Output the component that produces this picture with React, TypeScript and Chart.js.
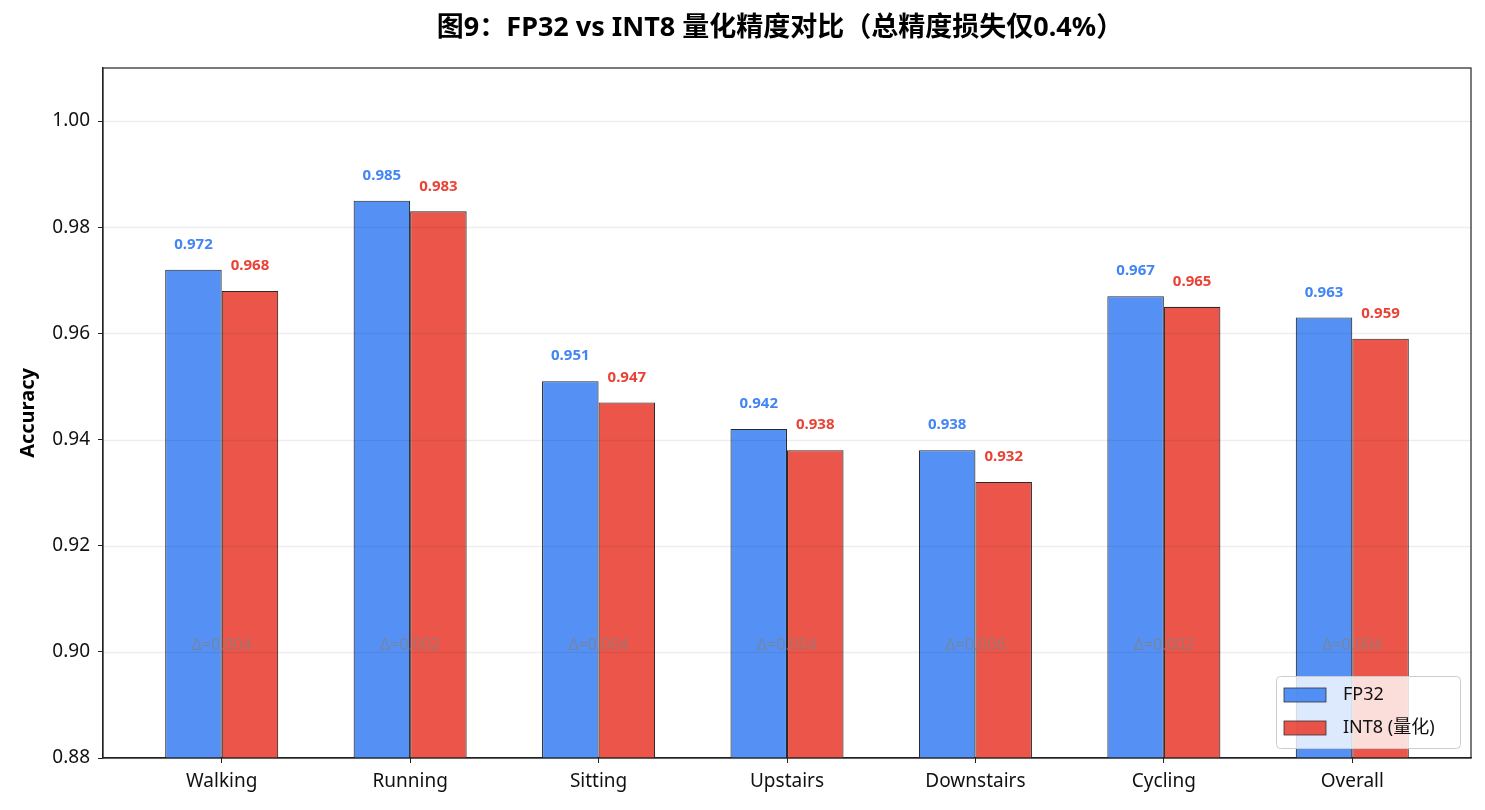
import React, { useEffect, useRef } from "react";
import { Chart, registerables } from "chart.js";

Chart.register(...registerables);

const categories = ["Walking", "Running", "Sitting", "Upstairs", "Downstairs", "Cycling", "Overall"];
const fp32 = [0.972, 0.985, 0.951, 0.942, 0.938, 0.967, 0.963];
const int8 = [0.968, 0.983, 0.947, 0.938, 0.932, 0.965, 0.959];
const yTicks = [0.88, 0.9, 0.92, 0.94, 0.96, 0.98, 1.0];
const titleText = "图9：FP32 vs INT8 量化精度对比（总精度损失仅0.4%）";
const seriesNames = ["FP32", "INT8 (量化)"];

const FONT = "'Noto Sans', 'Noto Sans CJK SC', 'DejaVu Sans', sans-serif";
const BLUE_FILL = "rgba(66,133,244,0.9)";
const RED_FILL = "rgba(234,67,53,0.9)";
const BLUE = "#4285F4";
const RED = "#EA4335";

export default function App() {
  const ref = useRef<HTMLCanvasElement | null>(null);

  useEffect(() => {
    document.body.style.margin = "0";
    const canvas = ref.current;
    if (!canvas) return;

    const overlay = {
      id: "overlay",
      afterDatasetsDraw(chart: any) {
        const ctx = chart.ctx;
        const area = chart.chartArea;
        const ys = chart.scales.y;
        const xs = chart.scales.x;
        ctx.save();
        // grid lines on top of bars
        ctx.strokeStyle = "rgba(0,0,0,0.07)";
        ctx.lineWidth = 1.5;
        for (const v of yTicks) {
          const py = Math.round(ys.getPixelForValue(v)) + 0.5;
          ctx.beginPath();
          ctx.moveTo(area.left, py);
          ctx.lineTo(area.right, py);
          ctx.stroke();
        }
        // delta labels
        ctx.font = `16px ${FONT}`;
        ctx.fillStyle = "rgba(128,128,128,0.7)";
        ctx.textAlign = "center";
        ctx.textBaseline = "middle";
        categories.forEach((_, i) => {
          const d = (fp32[i] - int8[i]).toFixed(3);
          ctx.fillText(`Δ=${d}`, xs.getPixelForValue(i), ys.getPixelForValue(0.9012));
        });
        // value labels
        ctx.font = `bold 15px ${FONT}`;
        const colors = [BLUE, RED];
        chart.data.datasets.forEach((ds: any, di: number) => {
          const meta = chart.getDatasetMeta(di);
          ctx.fillStyle = colors[di];
          meta.data.forEach((el: any, i: number) => {
            ctx.fillText(ds.data[i].y.toFixed(3), el.x, el.y - 25);
          });
        });
        // frame
        ctx.strokeStyle = "#222";
        ctx.lineWidth = 1.2;
        ctx.strokeRect(area.left, area.top, area.right - area.left, area.bottom - area.top);
        // legend
        const lx = 1276, ly = 676, lw = 184, lh = 72;
        ctx.fillStyle = "rgba(255,255,255,0.8)";
        ctx.strokeStyle = "#cccccc";
        ctx.lineWidth = 1;
        ctx.beginPath();
        (ctx as any).roundRect(lx + 0.5, ly + 0.5, lw, lh, 4);
        ctx.fill();
        ctx.stroke();
        const fills = [BLUE_FILL, RED_FILL];
        ctx.font = `18px ${FONT}`;
        ctx.textAlign = "left";
        ctx.textBaseline = "middle";
        seriesNames.forEach((name, i) => {
          const cy = ly + 19 + i * 33;
          ctx.fillStyle = fills[i];
          ctx.fillRect(lx + 8, cy - 7, 42, 14);
          ctx.strokeStyle = "#333";
          ctx.lineWidth = 0.8;
          ctx.strokeRect(lx + 8, cy - 7, 42, 14);
          ctx.fillStyle = "#111";
          ctx.fillText(name, lx + 67, cy);
        });
        // title
        ctx.font = `bold 27px ${FONT}`;
        ctx.textAlign = "center";
        ctx.fillStyle = "#000";
        ctx.fillText(titleText, (area.left + area.right) / 2 - 7, 28);
        ctx.restore();
      },
    };

    const chart = new Chart(canvas, {
      type: "bar",
      data: {
        datasets: [
          {
            label: seriesNames[0],
            data: fp32.map((v, i) => ({ x: i, y: v })),
            backgroundColor: BLUE_FILL,
            borderColor: "#2a2a2a",
            borderWidth: 1.1,
          },
          {
            label: seriesNames[1],
            data: int8.map((v, i) => ({ x: i, y: v })),
            backgroundColor: RED_FILL,
            borderColor: "#2a2a2a",
            borderWidth: 1.1,
          },
        ],
      },
      options: {
        responsive: false,
        animation: false,
        categoryPercentage: 0.6,
        barPercentage: 1.0,
        layout: { padding: { left: 16, right: 14, top: 68, bottom: 0 } },
        plugins: {
          legend: { display: false },
          title: { display: false },
          tooltip: { enabled: false },
        },
        scales: {
          x: {
            type: "linear",
            min: -0.63,
            max: 6.63,
            offset: false,
            afterBuildTicks: (s: any) => {
              s.ticks = categories.map((_, i) => ({ value: i }));
            },
            afterFit: (s: any) => {
              s.height = 52;
            },
            ticks: {
              autoSkip: false,
              maxRotation: 0,
              padding: 7,
              color: "#111",
              font: { family: FONT, size: 19 },
              callback: (v: any) => categories[Math.round(v)] ?? "",
            },
            grid: { display: true, offset: false, drawOnChartArea: false, drawTicks: true, tickLength: 5, color: "#222" },
            border: { display: true, color: "#222", width: 1.2 },
          },
          y: {
            min: 0.88,
            max: 1.01,
            afterBuildTicks: (s: any) => {
              s.ticks = yTicks.map((v) => ({ value: v }));
            },
            afterFit: (s: any) => {
              s.width = 87;
            },
            ticks: {
              padding: 8,
              color: "#111",
              font: { family: FONT, size: 19 },
              callback: (v: any) => Number(v).toFixed(2),
            },
            title: {
              display: true,
              text: "Accuracy",
              color: "#000",
              font: { family: FONT, size: 20, weight: "bold" },
              padding: { top: 0, bottom: 0 },
            },
            grid: { display: true, offset: false, drawOnChartArea: false, drawTicks: true, tickLength: 5, color: "#222" },
            border: { display: true, color: "#222", width: 1.2 },
          },
        },
      } as any,
      plugins: [overlay],
    });

    return () => chart.destroy();
  }, []);

  return (
    <div style={{ width: 1485, height: 810, background: "#fff" }}>
      <canvas ref={ref} width={1485} height={810} style={{ display: "block" }} />
    </div>
  );
}
